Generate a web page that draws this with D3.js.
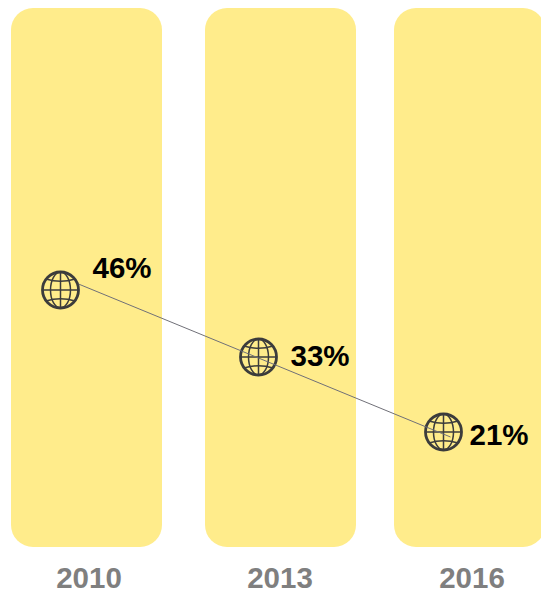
<!DOCTYPE html>
<html><head><meta charset="utf-8">
<style>html,body{margin:0;padding:0;background:#fff;overflow:hidden}svg{display:block}</style>
<script src="https://cdn.jsdelivr.net/npm/d3@7/dist/d3.min.js"></script>
</head><body>
<svg id="c" width="541" height="590"></svg>
<script>
const categories = ["2010", "2013", "2016"];
const values = [46, 33, 21];
const valueLabels = ["46%", "33%", "21%"];

const svg = d3.select("#c");
const barX = d3.scaleOrdinal(categories, [11, 205, 394]);
const pointX = d3.scaleOrdinal(categories, [60.5, 258.5, 443.5]);
const labelX = d3.scaleOrdinal(categories, [89, 280, 472]);
const y = d3.scaleLinear().domain([21, 33, 46]).range([432, 357, 290]);
const barW = 151, barTop = 8, barBottom = 547, rad = 22;
const font = "Liberation Sans, Arial, sans-serif";

svg.append("g").selectAll("rect").data(categories).join("rect")
  .attr("x", d => barX(d)).attr("y", barTop)
  .attr("width", barW).attr("height", barBottom - barTop)
  .attr("rx", rad).attr("ry", rad).attr("fill", "#ffec8b");

const pts = categories.map((c, i) => ({c, v: values[i], l: valueLabels[i]}));

function globe(g) {
  const s = "#3c3c3c";
  const add = (tag) => g.append(tag).attr("fill", "none").attr("stroke", s).attr("stroke-width", 1.5);
  add("circle").attr("r", 18).attr("stroke-width", 2.8);
  add("ellipse").attr("rx", 10).attr("ry", 18);
  add("line").attr("y1", -18).attr("y2", 18);
  add("line").attr("x1", -18).attr("x2", 18);
  add("path").attr("d", "M-14.5,-11Q0,-6.5 14.5,-11");
  add("path").attr("d", "M-14.5,11Q0,6.5 14.5,11");
}
const g = svg.append("g").selectAll("g").data(pts).join("g")
  .attr("transform", d => `translate(${pointX(d.c)},${y(d.v)})`);
g.each(function () { globe(d3.select(this)); });
g.append("text").attr("x", (d, i) => [32, 32, 26][i]).attr("y", (d, i) => [-12, 9, 13][i])
  .attr("font-family", font)
  .attr("font-size", 29.5).attr("font-weight", 700).attr("fill", "#000")
  .text(d => d.l);

const lineDx = [18, 0, 7], lineDy = [-6, 1, 5];
const line = d3.line().x((d, i) => pointX(d.c) + lineDx[i]).y((d, i) => y(d.v) + lineDy[i]);
svg.append("path").attr("d", line(pts)).attr("fill", "none")
  .attr("stroke", "#707078").attr("stroke-width", 1);

svg.append("g").selectAll("text").data(categories).join("text")
  .attr("x", d => labelX(d))
  .attr("y", 588).attr("text-anchor", "middle")
  .attr("font-family", font)
  .attr("font-size", 29.5).attr("font-weight", 700).attr("fill", "#7f7f7f")
  .text(d => d);
</script>
</body></html>
